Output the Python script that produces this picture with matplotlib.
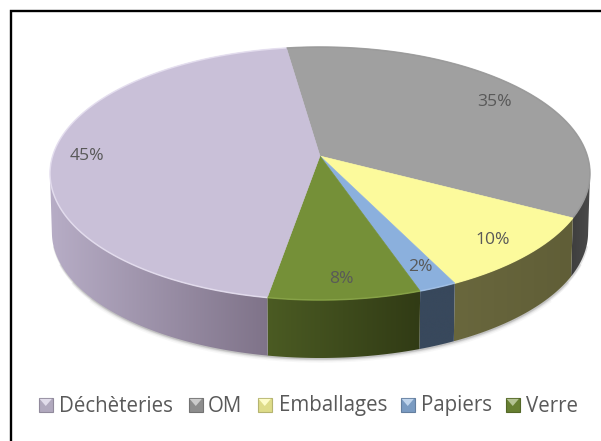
import numpy as np
import matplotlib
matplotlib.use("Agg")
import matplotlib.pyplot as plt
from matplotlib.colors import LinearSegmentedColormap
from matplotlib.patches import Polygon, Rectangle

categories = ["Déchèteries", "OM", "Emballages", "Papiers", "Verre"]
values = [45, 35, 10, 2, 8]
top_colors = ["#c9c0d8", "#a0a0a0", "#fcfa9c", "#8bb0dd", "#759038"]
wall_left = ["#b7adc6", "#3e3e3e", "#69673d", "#38485c", "#4b5b23"]
wall_right = ["#7f7389", "#4a4a4a", "#605e37", "#38485c", "#313b15"]
rim_colors = ["#e8e2f2", "#979797", "#fcfa9c", "#a5c3e8", "#8aa648"]
label_pos = [(87, 155), (495, 101), (493, 239), (420, 266), (341, 278)]
legend_marker_x = [39, 189, 258, 401, 506]
legend_text_x = [59, 208, 279, 421, 526]

# slice order clockwise from the start angle, beginning with OM and ending with Déchèteries
order = [1, 2, 3, 4, 0]
START = -8.2

CX, CY, A, B, K, DEPTH, LOW = 320.0, 156.0, 267.4, 124.1, 0.1383, 59.0, 0.993


def rim(theta_deg, dy=0.0, scale=1.0):
    th = np.radians(theta_deg)
    u, v = np.sin(th), np.cos(th)
    d = 1 + K * v
    return CX + scale * A * u / d, CY + dy + scale * -B * v / d


def mix(c0, c1, t):
    a = np.array(matplotlib.colors.to_rgb(c0))
    b = np.array(matplotlib.colors.to_rgb(c1))
    return tuple(a + (b - a) * np.clip(t, 0, 1))


plt.rcParams["font.family"] = ["Open Sans", "DejaVu Sans"]
fig = plt.figure(figsize=(6.01, 4.41), dpi=100, facecolor="white")
ax = fig.add_axes([0, 0, 1, 1])
ax.set_xlim(0, 601)
ax.set_ylim(441, 0)
ax.axis("off")

# frame, open on the right and bottom
ax.plot([11, 11, 601], [441, 11, 11], color="black", lw=1.7, solid_joinstyle="miter", zorder=1)

# soft shadow under the wall, tapering towards the sides
for w, al, lo, hi in [(6, 0.04, 128, 232), (4, 0.07, 120, 240), (2.5, 0.10, 112, 248), (1.4, 0.15, 104, 256)]:
    sx, sy = rim(np.linspace(lo, hi, 300), dy=DEPTH, scale=LOW)
    ax.plot(sx + 0.5, sy + 0.5, color="#404040", lw=w, alpha=al, zorder=2, solid_capstyle="butt")

# slice spans
angle = START
spans = {}
for i in order:
    sweep = values[i] / sum(values) * 360
    spans[i] = (angle, angle + sweep)
    angle += sweep

# walls: a horizontal gradient clipped to each slice's visible wall
for i in order:
    a0, a1 = spans[i]
    th = np.linspace(a0, a1, 400)
    th = th[np.cos(np.radians(th)) < -K]
    ux, uy = rim(th)
    lx, ly = rim(th, dy=DEPTH, scale=LOW)
    pts = np.column_stack([np.r_[ux, lx[::-1]], np.r_[uy, ly[::-1]]])
    outline = Polygon(pts, closed=True, facecolor="none", edgecolor="none", transform=ax.transData)
    ax.add_patch(outline)
    cmap = LinearSegmentedColormap.from_list("w", [wall_left[i], wall_right[i]])
    im = ax.imshow(np.linspace(0, 1, 256)[None, :], cmap=cmap, aspect="auto", zorder=3, interpolation="bilinear",
                   extent=(pts[:, 0].min(), pts[:, 0].max(), pts[:, 1].max(), pts[:, 1].min()))
    im.set_clip_path(outline)
ax.set_xlim(0, 601)
ax.set_ylim(441, 0)

# top faces
for i in order:
    a0, a1 = spans[i]
    th = np.linspace(a0, a1, 200)
    x, y = rim(th)
    pts = np.column_stack([np.r_[CX, x], np.r_[CY, y]])
    ax.add_patch(Polygon(pts, closed=True, facecolor=top_colors[i], edgecolor=top_colors[i], lw=0.4, zorder=4))
    ax.plot(x, y, color=rim_colors[i], lw=1.1, alpha=0.8, zorder=5, solid_capstyle="butt")

# data labels
for i, (px, py) in enumerate(label_pos):
    ax.text(px, py + 1, f"{values[i]}%", ha="center", va="center", fontsize=12.6, color="#595959", zorder=6)

# legend
LEG_Y, S, BASE = 405, 13.5, 411.5
for i, name in enumerate(categories):
    mx = legend_marker_x[i]
    ax.add_patch(Rectangle((mx, LEG_Y - S / 2), S, S, facecolor=mix(top_colors[i], "#000000", 0.12),
                           edgecolor=mix(top_colors[i], "#000000", 0.28), lw=0.8, zorder=6))
    ax.add_patch(Polygon([(mx + 0.6, LEG_Y - S / 2 + 0.6), (mx + S - 0.6, LEG_Y - S / 2 + 0.6), (mx + S / 2, LEG_Y + 1)],
                         closed=True, facecolor=mix(top_colors[i], "#ffffff", 0.45), edgecolor="none", zorder=7))
    ax.text(legend_text_x[i], BASE, name, ha="left", va="baseline", fontsize=14.8, color="#595959", zorder=6)

fig.savefig("out.png", dpi=100, facecolor="white")
